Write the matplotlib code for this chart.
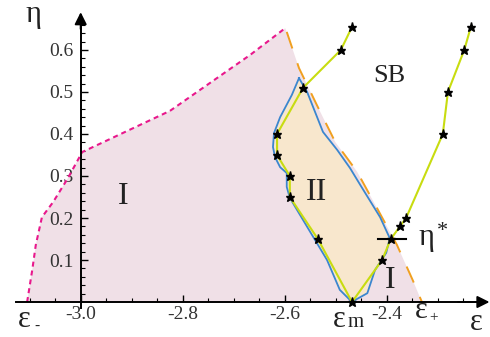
import numpy as np
import matplotlib
matplotlib.use("Agg")
import matplotlib.pyplot as plt
from matplotlib.ticker import FixedLocator

# left (magenta, dashed) boundary of region I, from eps_- upward
eps_left = [-3.105, -3.095, -3.088, -3.076, -3.054, -3.025, -2.997, -2.825, -2.668, -2.599]
eta_left = [0.0, 0.076, 0.136, 0.202, 0.238, 0.295, 0.357, 0.455, 0.588, 0.652]

# right (orange, dashed) boundary of region I, from the top down to eps_+
eps_right = [-2.599, -2.596, -2.572, -2.537, -2.501, -2.458, -2.417, -2.380, -2.349, -2.331]
eta_right = [0.652, 0.643, 0.557, 0.469, 0.381, 0.310, 0.219, 0.136, 0.052, 0.0]

# region II (blue contour)
eps_ii = [-2.572, -2.556, -2.525, -2.497, -2.472, -2.452, -2.413, -2.394, -2.401, -2.423,
          -2.438, -2.466, -2.468, -2.492, -2.517, -2.556, -2.590, -2.596, -2.596, -2.609,
          -2.619, -2.623, -2.621, -2.609, -2.586, -2.572]
eta_ii = [0.533, 0.500, 0.405, 0.362, 0.319, 0.279, 0.202, 0.152, 0.117, 0.076,
          0.021, 0.002, 0.0, 0.029, 0.100, 0.179, 0.248, 0.274, 0.307, 0.321,
          0.345, 0.369, 0.402, 0.440, 0.493, 0.533]

# SB boundary, computed points (stars)
eps_sb = [-2.468, -2.490, -2.564, -2.615, -2.615, -2.590, -2.590, -2.535, -2.468,
          -2.409, -2.392, -2.374, -2.362, -2.290, -2.280, -2.248, -2.235]
eta_sb = [0.655, 0.60, 0.51, 0.40, 0.35, 0.30, 0.25, 0.15, 0.0,
          0.10, 0.15, 0.18, 0.20, 0.40, 0.50, 0.60, 0.655]

eta_star = 0.15
eps_star_seg = [-2.417, -2.362]

x_ticks = [-3.0, -2.8, -2.6, -2.4]
x_labels = ["-3.0", "-2.8", "-2.6", "-2.4"]
y_ticks = [0.1, 0.2, 0.3, 0.4, 0.5, 0.6]
y_labels = ["0.1", "0.2", "0.3", "0.4", "0.5", "0.6"]

serif = ["Liberation Serif", "DejaVu Serif"]
plt.rcParams["font.family"] = serif

fig = plt.figure(figsize=(4.9, 3.37), dpi=100)
ax = fig.add_axes([0, 0, 1, 1])
ax.set_xlim(-3.1582, -2.1975)
ax.set_ylim(-0.0833, 0.719)

# region I (pink) and region II (peach)
ax.fill(eps_left + eps_right, eta_left + eta_right, color="#f0e0e7", lw=0, zorder=1)
ax.fill(eps_ii, eta_ii, color="#f8e7cd", lw=0, zorder=2)

ax.plot(eps_left, eta_left, color="#e8188c", lw=1.5, dashes=(2.4, 1.9), zorder=3)
ax.plot(eps_right[1:], eta_right[1:], color="#f0a020", lw=1.4, dashes=(9, 8), zorder=3)
ax.plot(eps_ii, eta_ii, color="#3b86cf", lw=1.3, zorder=4)
ax.plot(eps_sb, eta_sb, color="#c8dc10", lw=1.5, zorder=5)
ax.plot(eps_sb, eta_sb, ls="none", marker="*", ms=6.5, color="black", zorder=6)
ax.plot(eps_star_seg, [eta_star, eta_star], color="black", lw=1.5, zorder=6)

# axes through the origin with arrows
for s in ["top", "right"]:
    ax.spines[s].set_visible(False)
ax.spines["left"].set_position(("data", -3.0))
ax.spines["bottom"].set_position(("data", 0.0))
ax.spines["left"].set_bounds(-0.015, 0.67)
ax.spines["bottom"].set_bounds(-3.127, -2.22)
for s in ["left", "bottom"]:
    ax.spines[s].set_linewidth(1.4)
    ax.spines[s].set_zorder(7)
ax.annotate("", xy=(-3.0, 0.69), xytext=(-3.0, 0.65),
            arrowprops=dict(arrowstyle="-|>", color="black", lw=1.4,
                            mutation_scale=18, shrinkA=0, shrinkB=0), zorder=8)
ax.annotate("", xy=(-2.1985, 0.0), xytext=(-2.26, 0.0),
            arrowprops=dict(arrowstyle="-|>", color="black", lw=1.4,
                            mutation_scale=18, shrinkA=0, shrinkB=0), zorder=8)

ax.xaxis.set_major_locator(FixedLocator(x_ticks))
ax.xaxis.set_minor_locator(FixedLocator(np.arange(-3.10, -2.22, 0.05)))
ax.yaxis.set_major_locator(FixedLocator(y_ticks))
ax.yaxis.set_minor_locator(FixedLocator(np.arange(0.02, 0.67, 0.02)))
ax.set_xticklabels(x_labels)
ax.set_yticklabels(y_labels)
ax.tick_params(which="major", direction="in", length=5, width=1.0,
               labelsize=14, labelcolor="#333333")
ax.tick_params(which="minor", direction="in", length=3, width=0.8)
ax.tick_params(axis="x", pad=3)
ax.tick_params(axis="y", pad=5)

# labels
tc = "#222222"
ax.text(-3.109, 0.667, "η", fontsize=22, color=tc)
ax.text(-2.236, -0.066, "ε", fontsize=22, color=tc)
ax.text(-3.123, -0.060, "ε", fontsize=22, color=tc)
ax.text(-3.090, -0.067, "-", fontsize=11, color=tc)
ax.text(-2.505, -0.060, "ε", fontsize=22, color=tc)
ax.text(-2.476, -0.060, "m", fontsize=15, color=tc)
ax.text(-2.344, -0.038, "ε", fontsize=22, color=tc)
ax.text(-2.317, -0.045, "+", fontsize=11, color=tc)
ax.text(-2.917, 0.25, "I", fontsize=23, color=tc, ha="center", va="center")
ax.text(-2.537, 0.26, "II", fontsize=23, color=tc, ha="center", va="center")
ax.text(-2.394, 0.052, "I", fontsize=23, color=tc, ha="center", va="center")
ax.text(-2.394, 0.538, "SB", fontsize=19, color=tc, ha="center", va="center")
ax.text(-2.338, 0.136, "η", fontsize=22, color=tc)
ax.text(-2.301, 0.169, "*", fontsize=16, color=tc, va="center")

fig.savefig("out.png", dpi=100)
